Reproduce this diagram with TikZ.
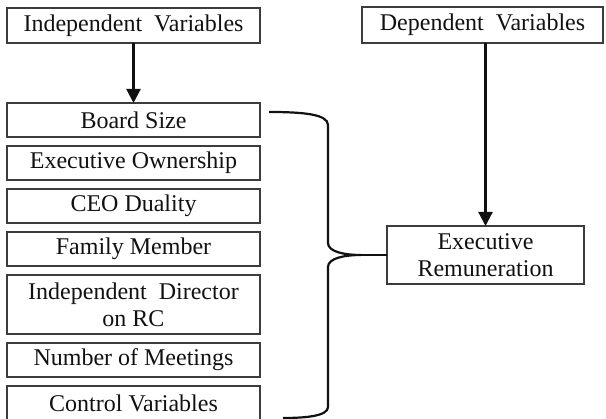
\documentclass[tikz,border=0pt]{standalone}
\usepackage{fontspec}
\setmainfont{Liberation Serif}
\usepackage{xcolor}
\usepackage{tikz}
\usetikzlibrary{positioning,arrows.meta,calc}
\definecolor{ink}{HTML}{111111}
\definecolor{frame}{HTML}{3C3C3C}
\tikzset{
  var/.style  = {draw=frame, line width=1.1pt, align=center, text=ink, inner sep=0pt, outer sep=0pt,
                 font=\fontsize{24}{27}\selectfont},
  iv/.style   = {var, minimum width=253pt, minimum height=34pt},
  ar/.style   = {-{Triangle[length=14pt,width=14pt]}, line width=2.2pt, draw=ink},
  brc/.style  = {line width=2.2pt, draw=ink},
}
\begin{document}
\begin{tikzpicture}[x=1pt, y=-1pt, node distance=9pt]
  \useasboundingbox (0,0) rectangle (606,419);

  % headings
  \node[var, minimum width=253pt, minimum height=35pt] (indep) at (133.5,25.5) {Independent\enspace Variables};
  \node[var, minimum width=241pt, minimum height=36pt] (dep) at (482.5,25) {Dependent\enspace Variables};

  % independent variables
  \node[iv] (board) at (133.5,120) {Board Size};
  \node[iv, below=of board] (own) {Executive Ownership};
  \node[iv, below=of own] (ceo) {CEO Duality};
  \node[iv, below=of ceo] (fam) {Family Member};
  \node[iv, below=of fam, minimum height=59pt] (dir) {Independent\enspace Director\\on RC};
  \node[iv, below=of dir] (meet) {Number of Meetings};
  \node[iv, below=of meet] (ctrl) {Control Variables};
  \draw[ar] (indep) -- (board);

  % dependent variable
  \node[var, minimum width=197pt, minimum height=58pt] (rem) at (485.5,255) {Executive\\Remuneration};
  \draw[ar] (rem.north |- dep.south) -- (rem.north);

  % brace
  \coordinate (bt) at (269,112);
  \coordinate (bb) at (283,418);
  \coordinate (tip) at ($(rem.west)+(-26,0)$);
  \draw[brc] (bt) .. controls (302,112) and (328,114) .. (328,125) -- (328,243)
    .. controls (328,252) and (345,255) .. (tip)
    .. controls (345,255) and (328,258) .. (328,267) -- (328,407)
    .. controls (328,416) and (306,418) .. (bb);
  \draw[brc] (tip) -- (rem.west);
\end{tikzpicture}
\end{document}
